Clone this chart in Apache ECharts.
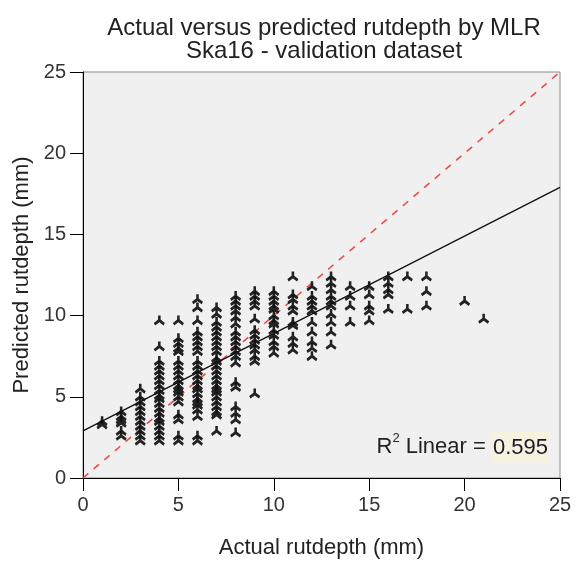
<!DOCTYPE html>
<html>
<head>
<meta charset="utf-8">
<script src="https://cdn.jsdelivr.net/npm/echarts@6/dist/echarts.min.js"></script>
<style>html,body{margin:0;padding:0;background:#fff}#c{width:577px;height:564px}</style>
</head>
<body>
<div id="c"></div>
<script>
// ---- data ----
const titleLines = ['Actual versus predicted rutdepth by MLR', 'Ska16 - validation dataset'];
const xName = 'Actual rutdepth (mm)';
const yName = 'Predicted rutdepth (mm)';
const axisMin = 0, axisMax = 25, axisStep = 5;
const actual = [1, 2, 3, 4, 5, 6, 7, 8, 9, 10, 11, 12, 13, 14, 15, 16, 17, 18, 20, 21];
const predicted = [
  [3.5, 3.3],
  [4.1, 3.8, 3.6, 3.4, 2.9, 2.6],
  [5.5, 5.0, 4.7, 4.4, 4.1, 3.8, 3.5, 3.2, 2.9, 2.6, 2.3],
  [9.7, 8.1, 7.2, 6.9, 6.6, 6.3, 6.0, 5.7, 5.4, 5.1, 4.9, 4.6, 4.3, 4.0, 3.7, 3.5, 3.2, 2.9, 2.6, 2.3],
  [9.7, 8.6, 8.3, 8.0, 7.8, 7.2, 6.9, 6.6, 6.3, 6.0, 5.7, 5.5, 5.3, 5.0, 4.7, 3.9, 3.6, 2.6, 2.3],
  [11.0, 10.5, 9.7, 9.0, 8.7, 8.4, 8.1, 7.8, 7.2, 6.9, 6.6, 6.3, 6.0, 5.7, 5.5, 5.2, 4.9, 4.7, 4.5, 4.2, 3.8, 2.6, 2.3],
  [10.5, 10.1, 9.6, 9.3, 9.0, 8.7, 8.4, 8.1, 7.8, 7.4, 7.2, 6.9, 6.6, 6.3, 6.0, 5.7, 5.5, 5.3, 5.0, 4.7, 4.4, 4.1, 3.9, 2.9],
  [11.2, 10.9, 10.6, 10.3, 9.9, 9.5, 9.0, 8.7, 8.4, 8.1, 7.8, 7.5, 7.1, 5.9, 5.6, 4.4, 4.0, 3.6, 2.8],
  [11.5, 11.2, 10.9, 10.6, 9.8, 9.1, 8.8, 8.5, 8.2, 7.9, 7.5, 7.2, 5.2],
  [11.5, 11.2, 10.9, 10.6, 10.4, 10.0, 9.7, 9.5, 9.1, 8.8, 8.4, 8.1, 7.7],
  [12.4, 11.3, 11.0, 10.6, 10.3, 9.6, 9.4, 8.7, 8.3, 7.9],
  [11.8, 11.2, 10.9, 10.6, 10.3, 9.6, 9.0, 8.4, 8.0, 7.5],
  [12.4, 12.0, 11.6, 11.2, 10.9, 10.6, 10.1, 9.6, 9.0, 8.2],
  [11.8, 11.2, 10.6, 9.6],
  [11.8, 11.3, 10.6, 10.3, 9.7],
  [12.4, 12.0, 11.6, 11.3, 10.4],
  [12.4, 10.4],
  [12.4, 11.5, 10.6],
  [10.9],
  [9.8]
];
const fitIntercept = 2.9;
const fitSlope = 0.6;
const rSquaredText = '0.595';

// ---- build series ----
const points = [];
actual.forEach((a, i) => predicted[i].forEach(p => points.push([a, p])));
const fitLine = [[axisMin, fitIntercept + fitSlope * axisMin], [axisMax, fitIntercept + fitSlope * axisMax]];
const refLine = [[axisMin, axisMin], [axisMax, axisMax]];

const markerPath = 'path://M3.7,0 L6.3,0 L6.3,4.1 L10.6,7.5 L9.3,10 L5,6.9 L0.7,10 L-0.6,7.5 L3.7,4.1 Z';
const FONT = '"Liberation Sans", Arial, sans-serif';

const chart = echarts.init(document.getElementById('c'), null, {renderer: 'canvas'});
chart.setOption({
  animation: false,
  backgroundColor: '#ffffff',
  grid: {left: 83, right: 17, top: 72, bottom: 84, show: true, backgroundColor: '#f0f0f0', borderColor: '#8c8c8c', borderWidth: 1},
  graphic: [
    {type: 'text', x: 324, y: 40, style: {text: titleLines.join('\n'), font: '24px ' + FONT, fill: '#222', align: 'center', verticalAlign: 'middle', lineHeight: 23}},
    {type: 'text', x: 550, y: 447, z: 10, style: {
      text: '{r|R}{s|2}{n| Linear = }{v|' + rSquaredText + '}',
      align: 'right', verticalAlign: 'middle',
      rich: {
        r: {fontSize: 22, fontFamily: FONT, fill: '#222'},
        s: {fontSize: 13, fontFamily: FONT, fill: '#222', verticalAlign: 'top', padding: [0, 0, 10, 0]},
        n: {fontSize: 22, fontFamily: FONT, fill: '#222'},
        v: {fontSize: 22, fontFamily: FONT, fill: '#1a1a2a', backgroundColor: '#f7f2e0', padding: [5, 2, 4, 1]}
      }
    }}
  ],
  xAxis: {
    type: 'value', min: axisMin, max: axisMax, interval: axisStep,
    name: xName, nameLocation: 'middle', nameGap: 59,
    nameTextStyle: {fontSize: 22, fontFamily: FONT, color: '#222'},
    axisLine: {lineStyle: {color: '#000', width: 1}},
    axisTick: {length: 13, lineStyle: {color: '#000'}},
    axisLabel: {fontSize: 20, fontFamily: FONT, color: '#333', margin: 17},
    splitLine: {show: false}
  },
  yAxis: {
    type: 'value', min: axisMin, max: axisMax, interval: axisStep,
    name: yName, nameLocation: 'middle', nameGap: 50,
    nameTextStyle: {fontSize: 22, fontFamily: FONT, color: '#222'},
    axisLine: {lineStyle: {color: '#000', width: 1}},
    axisTick: {length: 13, lineStyle: {color: '#000'}},
    axisLabel: {fontSize: 20, fontFamily: FONT, color: '#333', margin: 17},
    splitLine: {show: false}
  },
  series: [
    {type: 'line', data: refLine, symbol: 'none', silent: true, z: 2,
     lineStyle: {color: '#ee4b4b', width: 1.6, type: [7, 7]}},
    {type: 'scatter', data: points, symbol: markerPath, symbolSize: [11, 10], z: 3,
     itemStyle: {color: '#111', opacity: 0.92}},
    {type: 'line', data: fitLine, symbol: 'none', silent: true, z: 4,
     lineStyle: {color: '#111', width: 1.3}}
  ]
});
</script>
</body>
</html>
